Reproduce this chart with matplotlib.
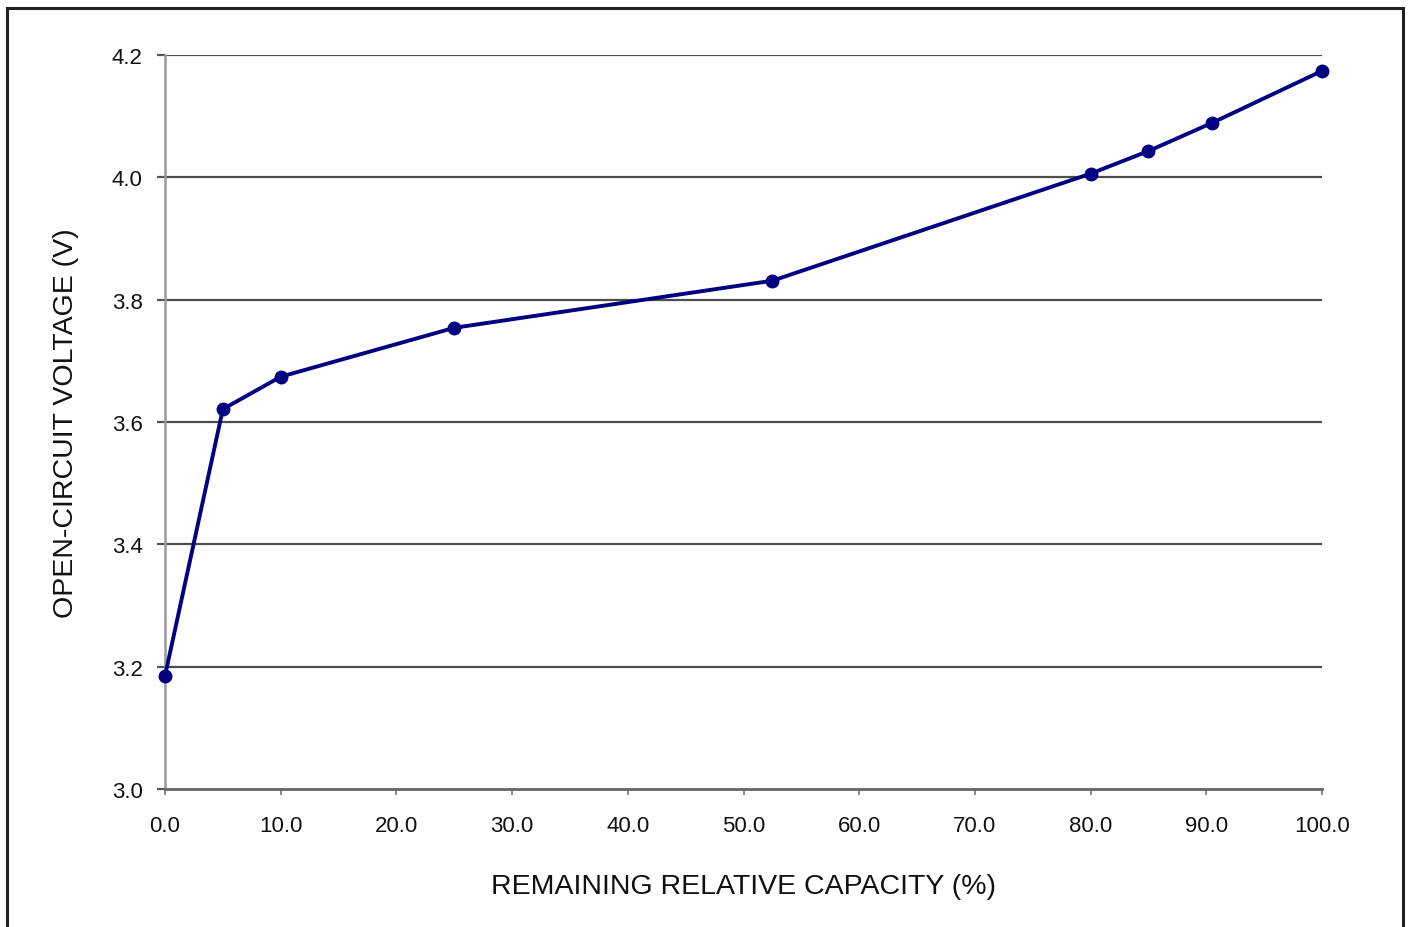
import matplotlib
matplotlib.use("Agg")
import matplotlib.pyplot as plt
from matplotlib.patches import Rectangle

# remaining relative capacity (%) vs open-circuit voltage (V)
capacity = [0.0, 5.0, 10.0, 25.0, 52.5, 80.0, 85.0, 90.5, 100.0]
voltage = [3.185, 3.621, 3.674, 3.754, 3.831, 4.006, 4.043, 4.089, 4.174]

x_ticks = [0, 10, 20, 30, 40, 50, 60, 70, 80, 90, 100]
y_ticks = [3.0, 3.2, 3.4, 3.6, 3.8, 4.0, 4.2]

plt.rcParams["font.family"] = ["Liberation Sans", "DejaVu Sans"]

fig = plt.figure(figsize=(14.1, 9.28), dpi=100)
ax = fig.add_axes([165 / 1410, 1 - 790 / 928, (1322 - 165) / 1410, (790 - 56) / 928])

for y in y_ticks[1:]:
    ax.axhline(y, color="#4d4d4d", lw=1.6, zorder=1)

ax.plot(capacity, voltage, color="#000080", lw=2.8, marker="o", ms=9,
        clip_on=False, zorder=3)

ax.set_xlim(0, 100)
ax.set_ylim(3.0, 4.2)
ax.set_xticks(x_ticks)
ax.set_xticklabels([f"{t:.1f}" for t in x_ticks])
ax.set_yticks(y_ticks)
ax.set_yticklabels([f"{t:.1f}" for t in y_ticks])

for side in ["top", "right"]:
    ax.spines[side].set_visible(False)
ax.spines["left"].set_color("#999999")
ax.spines["left"].set_linewidth(1.8)
ax.spines["bottom"].set_color("#666666")
ax.spines["bottom"].set_linewidth(2.0)

ax.tick_params(axis="x", direction="out", length=4, width=1.4, color="#888888",
               labelsize=16, pad=15, labelcolor="#111111")
ax.tick_params(axis="y", direction="out", length=6, width=1.6, color="#555555",
               labelsize=16, pad=10, labelcolor="#111111")

ax.set_xlabel("REMAINING RELATIVE CAPACITY (%)", fontsize=20.5, labelpad=26,
              color="#111111")
ax.set_ylabel("OPEN-CIRCUIT VOLTAGE (V)", fontsize=20.5, labelpad=24,
              color="#111111")

# outer frame, its bottom edge falls off the picture
fig.add_artist(Rectangle((7 / 1410, -0.05), (1403 - 7) / 1410, 1.05 - 9 / 928,
                         transform=fig.transFigure, fill=False,
                         edgecolor="#222222", lw=2.2))

fig.savefig("out.png", dpi=100)
